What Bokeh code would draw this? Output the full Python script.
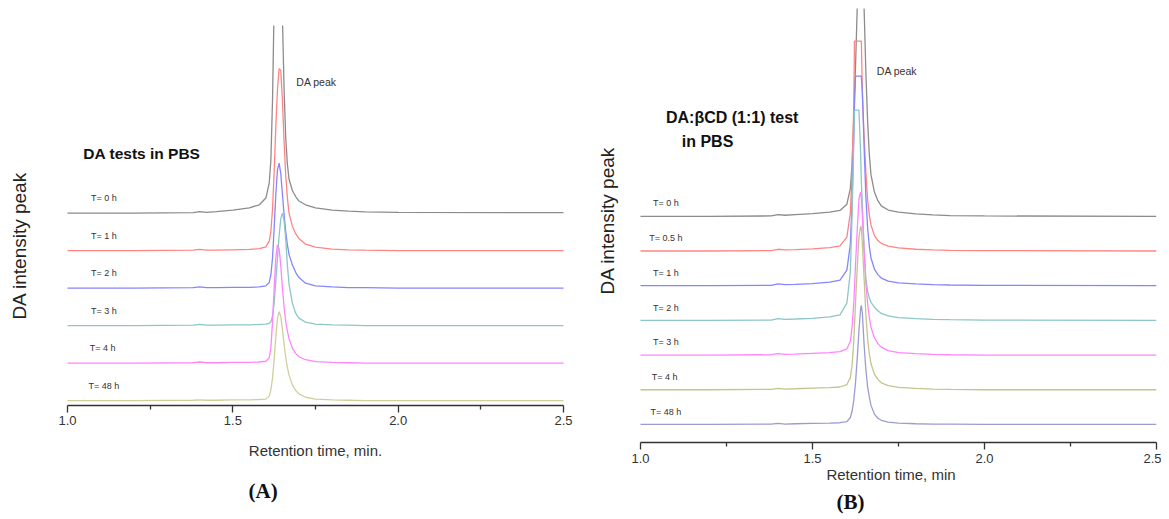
from bokeh.plotting import figure
from bokeh.layouts import row
from bokeh.models import Range1d, FixedTicker, PrintfTickFormatter, Title
from bokeh.core.properties import value
from bokeh.embed import file_html
from bokeh.resources import INLINE
import math

# ---------------- data ----------------
# Panel A: DA tests in PBS
rt_a = [1.00, 1.20, 1.38, 1.40, 1.42, 1.45, 1.50, 1.55, 1.58, 1.60, 1.61, 1.615,
        1.62, 1.625, 1.63, 1.635, 1.64, 1.645, 1.65, 1.655, 1.66, 1.665, 1.67,
        1.68, 1.69, 1.70, 1.72, 1.75, 1.80, 1.85, 1.90, 2.00, 2.50]
a_t0 = [0, 0, 1, 4, 2, 4, 8, 14, 22, 40, 80, 140, 300, 560, 800, 900, 880, 750,
        520, 330, 200, 130, 90, 60, 44, 32, 22, 14, 8, 5, 3, 2, 1]
a_t1 = [0, 0, 1, 3, 1, 1, 2, 3, 5, 10, 25, 50, 110, 210, 330, 430, 485, 480,
        400, 290, 200, 140, 100, 65, 45, 32, 17, 9, 4, 2, 1, 0, 0]
a_t2 = [0, 0, 1, 3, 1, 1, 2, 2, 3, 6, 15, 35, 80, 160, 250, 315, 333, 305,
        250, 195, 150, 115, 90, 62, 42, 28, 13, 6, 3, 1, 1, 0, 0]
a_t3 = [0, 0, 1, 3, 1, 1, 2, 2, 3, 4, 6, 10, 25, 60, 120, 180, 240, 285,
        300, 280, 230, 160, 110, 60, 33, 20, 9, 4, 2, 1, 0, 0, 0]
a_t4 = [0, 0, 1, 3, 1, 1, 2, 2, 3, 5, 14, 40, 110, 200, 280, 315, 305, 260,
        200, 150, 110, 85, 65, 40, 26, 17, 9, 4, 2, 1, 0, 0, 0]
a_t48 = [0, 0, 1, 2, 1, 1, 2, 2, 3, 4, 12, 28, 60, 110, 170, 220, 237, 225,
         190, 150, 115, 88, 68, 42, 27, 18, 9, 4, 2, 1, 0, 0, 0]
labels_a = ["T= 0 h", "T= 1 h", "T= 2 h", "T= 3 h", "T= 4  h", "T= 48 h"]
series_a = [a_t0, a_t1, a_t2, a_t3, a_t4, a_t48]

# Panel B: DA:betaCD (1:1) test in PBS
rt_b = [1.00, 1.20, 1.38, 1.40, 1.42, 1.45, 1.50, 1.55, 1.58, 1.60, 1.61, 1.615,
        1.62, 1.622, 1.625, 1.63, 1.635, 1.64, 1.642, 1.645, 1.65, 1.655, 1.66,
        1.665, 1.67, 1.68, 1.69, 1.70, 1.72, 1.75, 1.80, 1.85, 1.90, 2.00, 2.50]
b_t0 = [0, 0, 1, 5, 3, 5, 8, 12, 17, 35, 80, 150, 280, 350, 430, 600, 750, 800,
        790, 740, 600, 420, 280, 180, 120, 70, 45, 30, 18, 12, 7, 4, 2, 1, 0]
b_t05 = [0, 0, 1, 5, 3, 4, 6, 10, 15, 40, 110, 230, 420, 605, 605, 605, 605, 605,
         605, 450, 330, 230, 150, 105, 75, 45, 30, 22, 14, 9, 5, 3, 2, 1, 0]
b_t1 = [0, 0, 1, 5, 3, 4, 6, 10, 16, 45, 120, 240, 430, 520, 604, 604, 604, 604,
        604, 560, 400, 260, 170, 115, 80, 48, 32, 22, 13, 8, 5, 3, 2, 1, 0]
b_t2 = [0, 0, 1, 5, 3, 4, 6, 10, 16, 50, 140, 300, 520, 606, 606, 606, 606, 480,
        400, 330, 210, 120, 85, 65, 52, 38, 28, 20, 13, 8, 5, 3, 2, 1, 0]
b_t3 = [0, 0, 1, 4, 2, 3, 5, 7, 10, 18, 40, 80, 150, 190, 260, 360, 450, 470,
        455, 400, 300, 210, 150, 110, 80, 50, 33, 23, 13, 7, 4, 2, 1, 0, 0]
b_t4 = [0, 0, 1, 4, 2, 3, 5, 6, 8, 15, 35, 70, 140, 180, 250, 350, 440, 472,
        465, 420, 320, 220, 150, 105, 75, 45, 30, 20, 12, 7, 4, 2, 1, 0, 0]
b_t48 = [0, 0, 1, 3, 1, 2, 3, 4, 5, 8, 20, 38, 70, 90, 120, 190, 270, 335,
         343, 320, 230, 160, 110, 80, 55, 30, 18, 12, 7, 4, 2, 1, 1, 0, 0]
labels_b = ["T= 0 h", "T= 0.5 h", "T= 1 h", "T= 2 h", "T= 3 h", "T= 4  h", "T= 48 h"]
series_b = [b_t0, b_t05, b_t1, b_t2, b_t3, b_t4, b_t48]

x_ticks = [1.0, 1.5, 2.0, 2.5]
x_minor = [1.25, 1.75, 2.25]
y_title = "DA intensity peak"

# ---------------- style ----------------
colors_a = ["#8c8c8c", "#ff8585", "#8585ff", "#8cc6c6", "#ff85ff", "#cfcf9c"]
colors_b = ["#8c8c8c", "#ff8585", "#8585ff", "#8cc6c6", "#ff85ff", "#c4c48e", "#9c9cd0"]
FONT = "Liberation Sans"
AXC = "#333333"
STEP = 100


def make_panel(rt, series, labels, colors, width, height, bl, br, bt, bb,
               x_lo, x_hi, y_lo, y_hi, label_x, label_dy, axis_title, tick_standoff,
               title_standoff, panel_tag, tag_offset, tag_standoff):
    p = figure(width=width, height=height, output_backend="svg", toolbar_location=None,
               x_range=Range1d(x_lo, x_hi), y_range=Range1d(y_lo, y_hi),
               y_axis_location=None, min_border_left=bl, min_border_right=br,
               min_border_top=bt, min_border_bottom=bb)
    try:
        p.frame_align = False
    except Exception:
        pass
    p.outline_line_color = None
    p.grid.visible = False
    p.background_fill_color = "white"
    p.border_fill_color = "white"
    n = len(series)
    for i, (vals, lab, col) in enumerate(zip(series, labels, colors)):
        off = (n - 1 - i) * STEP
        p.line(rt, [v + off for v in vals], line_color=col, line_width=1.3)
        p.text(x=[label_x], y=[off + label_dy], text=[lab], text_font=value(FONT),
               text_font_size="9px", text_color="#333333", text_align="center",
               text_baseline="middle")
    ax = p.xaxis[0]
    ax.bounds = (1.0, 2.5)
    ax.ticker = FixedTicker(ticks=x_ticks, minor_ticks=x_minor)
    ax.formatter = PrintfTickFormatter(format="%.1f")
    ax.axis_line_color = AXC
    ax.axis_line_width = 1.5
    ax.major_tick_line_color = AXC
    ax.major_tick_line_width = 1.3
    ax.minor_tick_line_color = AXC
    ax.minor_tick_line_width = 1.3
    ax.major_tick_in = 0
    ax.major_tick_out = 7
    ax.minor_tick_in = 0
    ax.minor_tick_out = 4
    ax.major_label_text_font = FONT
    ax.major_label_text_font_size = "13px"
    ax.major_label_text_color = AXC
    ax.major_label_standoff = tick_standoff
    ax.axis_label = axis_title
    ax.axis_label_text_font = FONT
    ax.axis_label_text_font_style = "normal"
    ax.axis_label_text_font_size = "15px"
    ax.axis_label_text_color = AXC
    ax.axis_label_standoff = title_standoff
    # panel tag below
    p.add_layout(Title(text=panel_tag, align="left", offset=tag_offset,
                       standoff=tag_standoff, text_font="Liberation Serif",
                       text_font_size="21px", text_font_style="bold",
                       text_color="#111111"), "below")
    return p


def ylabel(p, x, y):
    p.text(x=[x], y=[y], text=[y_title], text_font=value(FONT),
           text_font_size="19px", text_color="#222222", text_align="center",
           text_baseline="middle", angle=math.pi / 2)


# Panel A  (frame x 5..625 with 1.0 at 67 and 2.5 at 563, y 25..405)
pA = make_panel(rt_a, series_a, labels_a, colors_a, 625, 519, 5, 0, 25, 114,
                0.8125, 2.6875, -13, 1000, 1.11, 40, "Retention time, min.", 3, 14,
                "(A)", 243, 30)
pA.text(x=[1.048], y=[659], text=["DA tests in PBS"], text_font=value(FONT),
        text_font_size="15.5px", text_font_style="bold", text_color="#111111",
        text_align="left", text_baseline="middle")
pA.text(x=[1.692], y=[850], text=["DA peak"], text_font=value(FONT),
        text_font_size="10.5px", text_color="#333333", text_align="left",
        text_baseline="middle")
ylabel(pA, 0.8548, 413)      # vertical title of panel A
ylabel(pA, 2.633, 480)       # vertical title of panel B (sits left of B's frame)

# Panel B  (frame x 625..1156 with 1.0 at 640, y 8..442)
pB = make_panel(rt_b, series_b, labels_b, colors_b, 536, 519, 0, 5, 8, 77,
                0.9564, 2.5, -52, 1199, 1.074, 37, "Retention time, min", 4, 0,
                "(B)", 211, 4)
pB.text(x=[1.074], y=[885], text=["DA:\u03b2CD (1:1) test"], text_font=value(FONT),
        text_font_size="16px", text_font_style="bold", text_color="#111111",
        text_align="left", text_baseline="middle")
pB.text(x=[1.120], y=[816], text=["in PBS"], text_font=value(FONT),
        text_font_size="16px", text_font_style="bold", text_color="#111111",
        text_align="left", text_baseline="middle")
pB.text(x=[1.687], y=[1018], text=["DA peak"], text_font=value(FONT),
        text_font_size="10.5px", text_color="#333333", text_align="left",
        text_baseline="middle")

layout = row(pA, pB)
open("out.html", "w").write(file_html(layout, INLINE))
